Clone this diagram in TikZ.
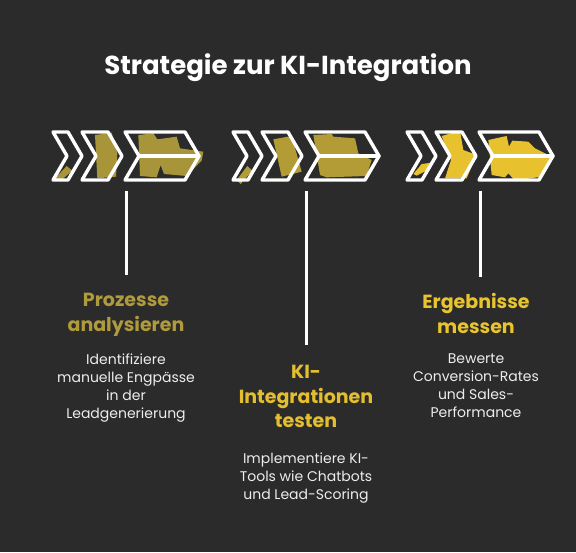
\documentclass[tikz,border=0pt]{standalone}
\usepackage{fontspec}
\setmainfont{Poppins}
\begin{document}
\begin{tikzpicture}[x=1pt,y=-1pt,
  chev/.style={draw=white,line width=3.4pt,line join=round,line cap=round},
  vline/.style={draw=white,line width=3pt},
  head/.style={font=\fontsize{19}{24.5}\selectfont\bfseries,align=center},
  desc/.style={font=\fontsize{14}{18}\selectfont,text=txt,align=center},
]
\definecolor{bg}{HTML}{2B2B2B}
\definecolor{goldA}{HTML}{A89439}
\definecolor{goldB}{HTML}{B39C35}
\definecolor{goldC}{HTML}{E8C22E}
\definecolor{headA}{HTML}{B09B3C}
\definecolor{headB}{HTML}{E3BF30}
\definecolor{headC}{HTML}{EAC42F}
\definecolor{txt}{HTML}{EDEDED}
\fill[bg] (0,0) rectangle (576,552);
\useasboundingbox (0,0) rectangle (576,552);

% ---------- fills group 1 ----------
\begin{scope}[shift={(40,110)},scale=1/3]
\fill[goldA] (45,205) -- (80,168) -- (97,182) -- (62,212) -- cycle;
\fill[goldA] (165,75) -- (215,68) -- (232,130) -- (228,200) -- (172,205) -- cycle;
\fill[goldA] (295,75) -- (340,70) -- (352,88) -- (410,80) -- (420,115) -- (490,125) -- (485,152) -- (440,198) -- (372,192) -- (362,165) -- (350,202) -- (300,198) -- cycle;
\end{scope}
% ---------- fills group 2 ----------
\begin{scope}[shift={(220,110)},scale=1/3]
\fill[goldB] (50,210) -- (82,168) -- (97,182) -- (62,222) -- cycle;
\fill[goldB] (160,88) -- (215,78) -- (245,185) -- (185,200) -- cycle;
\fill[goldB] (280,75) -- (335,72) -- (340,80) -- (405,85) -- (415,130) -- (455,150) -- (440,198) -- (320,202) -- (300,195) -- cycle;
\end{scope}
% ---------- fills group 3 ----------
\begin{scope}[shift={(395,110)},scale=1/3]
\fill[goldC] (55,192) -- (80,162) -- (110,158) -- (98,180) -- (65,197) -- cycle;
\fill[goldC] (140,78) -- (195,62) -- (205,120) -- (245,135) -- (215,205) -- (150,205) -- (168,150) -- cycle;
\fill[goldC] (280,90) -- (335,78) -- (342,110) -- (352,92) -- (400,95) -- (420,115) -- (470,140) -- (440,200) -- (360,212) -- (340,190) -- (330,202) -- (290,195) -- cycle;
\end{scope}

% ---------- chevrons ----------
\foreach \s in {0,180,354}{
  \begin{scope}[xshift=\s pt]
  \draw[chev] (53,132) -- (68,132) -- (82,156) -- (68,180) -- (53,180) -- (67,156) -- cycle;
  \draw[chev] (82,132) -- (108,132) -- (122,156) -- (108,180) -- (82,180) -- (96,156) -- cycle;
  \draw[chev] (125,132) -- (185,132) -- (199,156) -- (185,180) -- (125,180) -- (139,156) -- cycle;
  \draw[chev] (139,156) -- (199,156);
  \end{scope}
}

% ---------- title ----------
\node[font=\fontsize{26}{30}\selectfont\bfseries,text=white] (title) at (288,68) {Strategie zur KI-Integration};

% ---------- step texts ----------
\node[head,text=headA,anchor=north] (h1) at (126,290) {Prozesse\\analysieren};
\node[desc,anchor=north] (d1) at (126,350) {Identifiziere\\manuelle Engpässe\\in der\\Leadgenerierung};

\node[head,text=headB,anchor=north] (h2) at (306,362) {KI-\\Integrationen\\testen};
\node[desc,anchor=north] (d2) at (306,449) {Implementiere KI-\\Tools wie Chatbots\\und Lead-Scoring};

\node[head,text=headC,anchor=north] (h3) at (476,290) {Ergebnisse\\messen};
\node[desc,anchor=north] (d3) at (476,350) {Bewerte\\Conversion-Rates\\und Sales-\\Performance};

% ---------- connectors ----------
\coordinate (t1) at (126,191); \coordinate (t2) at (306,191); \coordinate (t3) at (480,191);
\coordinate (b1) at (126,275); \coordinate (b2) at (306,345); \coordinate (b3) at (480,277);
\draw[vline] (t1) -- (b1);
\draw[vline] (t2) -- (b2);
\draw[vline] (t3) -- (b3);
\end{tikzpicture}
\end{document}
